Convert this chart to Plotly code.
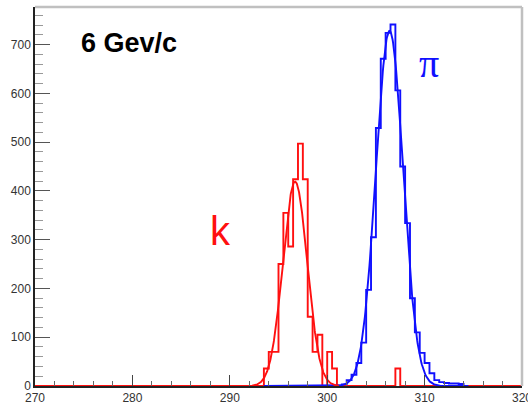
import numpy as np
import plotly.graph_objects as go

# ---- data ----
bin_width = 0.5
x_min, x_max = 270.0, 320.0

k_bin_lo = [293.5, 294.0, 294.5, 295.0, 295.5, 296.0, 296.5, 297.0, 297.5,
            298.0, 298.5, 299.0, 299.5, 300.0, 300.5, 307.0]
k_counts = [36, 70, 70, 250, 355, 286, 424, 497, 424,
            142, 70, 105, 0, 70, 36, 36]

pi_bin_lo = [301.5, 302.0, 302.5, 303.0, 303.5, 304.0, 304.5, 305.0, 305.5,
             306.0, 306.5, 307.0, 307.5, 308.0, 308.5, 309.0, 309.5, 310.0,
             310.5, 311.0, 311.5, 312.0, 312.5, 313.0, 313.5]
pi_counts = [3, 12, 23, 47, 89, 197, 305, 529, 671,
             724, 741, 606, 450, 334, 180, 110, 68, 47,
             26, 12, 8, 6, 5, 5, 4]

# Gaussian fit parameters (amplitude, mean, sigma) and drawn fit ranges
k_fit = (419.0, 296.7, 1.25)
k_fit_range = (292.3, 301.2)
pi_fit = (728.0, 306.4, 1.4)
pi_fit_range = (293.5, 314.5)

x_ticks = [270, 280, 290, 300, 310, 320]
y_ticks = [0, 100, 200, 300, 400, 500, 600, 700]
y_top = 777


def full_hist(lo, counts):
    n = int(round((x_max - x_min) / bin_width))
    edges = x_min + bin_width * np.arange(n + 1)
    h = np.zeros(n)
    for l, c in zip(lo, counts):
        h[int(round((l - x_min) / bin_width))] = c
    return edges, np.append(h, h[-1])


def gaus_curve(params, rng):
    a, m, s = params
    xs = np.linspace(rng[0], rng[1], 400)
    return xs, a * np.exp(-0.5 * ((xs - m) / s) ** 2)


RED = "#ff1010"
BLUE = "#1010ff"

fig = go.Figure()
ex, ey = full_hist(pi_bin_lo, pi_counts)
fig.add_trace(go.Scatter(x=ex, y=ey, mode="lines", line=dict(shape="hv", color=BLUE, width=1.9)))
ex, ey = full_hist(k_bin_lo, k_counts)
fig.add_trace(go.Scatter(x=ex, y=ey, mode="lines", line=dict(shape="hv", color=RED, width=1.9)))
fx, fy = gaus_curve(pi_fit, pi_fit_range)
fig.add_trace(go.Scatter(x=fx, y=fy, mode="lines", line=dict(color=BLUE, width=1.9)))
fx, fy = gaus_curve(k_fit, k_fit_range)
fig.add_trace(go.Scatter(x=fx, y=fy, mode="lines", line=dict(color=RED, width=1.9)))

tickfont = dict(family="Liberation Sans, Arial, sans-serif", size=12, color="#333333")

fig.update_layout(
    width=528, height=404,
    margin=dict(l=35, r=6, t=7, b=18),
    paper_bgcolor="white", plot_bgcolor="white",
    showlegend=False,
    xaxis=dict(range=[x_min, x_max], tickvals=x_ticks, ticks="inside", ticklen=11,
               tickcolor="#444444", tickwidth=1, showgrid=False, zeroline=False,
               showline=True, linecolor="#222222", linewidth=1.5,
               tickfont=tickfont, automargin=False, ticklabeloverflow="allow",
               minor=dict(dtick=2, ticks="inside", ticklen=5, tickcolor="#666666")),
    yaxis=dict(range=[0, y_top], tickvals=y_ticks, ticks="inside", ticklen=15,
               tickcolor="#555555", tickwidth=1.2, showgrid=False, zeroline=False,
               showline=True, linecolor="#222222", linewidth=1.5,
               tickfont=tickfont, automargin=False,
               minor=dict(dtick=20, ticks="inside", ticklen=8, tickcolor="#999999")),
    shapes=[
        dict(type="line", xref="paper", yref="paper", x0=0, x1=1, y0=1, y1=1,
             line=dict(color="#c0c0c0", width=2.5)),
        dict(type="line", xref="paper", yref="paper", x0=1, x1=1, y0=0, y1=1,
             line=dict(color="#c0c0c0", width=2.5)),
    ],
    annotations=[
        dict(text="<b>6 Gev/c</b>", xref="paper", yref="paper", x=0.192, y=0.906,
             showarrow=False, xanchor="center", yanchor="middle",
             font=dict(family="Liberation Sans, Arial, sans-serif", size=27, color="black")),
        dict(text="π", xref="paper", yref="paper", x=0.810, y=0.85,
             showarrow=False, xanchor="center", yanchor="middle",
             font=dict(family="Liberation Serif, serif", size=40, color=BLUE)),
        dict(text="k", xref="paper", yref="paper", x=0.380, y=0.41,
             showarrow=False, xanchor="center", yanchor="middle",
             font=dict(family="Liberation Sans, Arial, sans-serif", size=40, color=RED)),
    ],
)

fig.write_html("out.html",
               config={"displayModeBar": False},
               post_script="document.body.style.margin='0';document.body.style.overflow='hidden';")
